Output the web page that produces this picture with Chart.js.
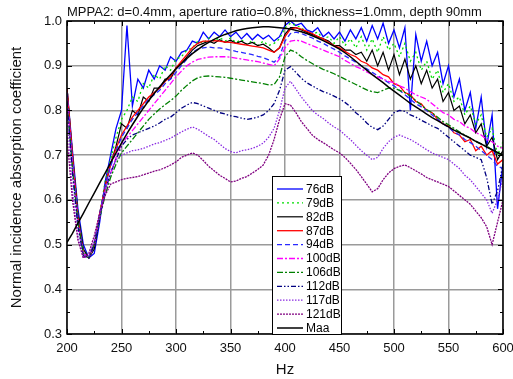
<!DOCTYPE html>
<html>
<head>
<meta charset="utf-8">
<script src="https://cdn.jsdelivr.net/npm/chart.js@4"></script>
<style>
  html, body { margin: 0; padding: 0; background: #fff; }
  #wrap { width: 513px; height: 379px; }
</style>
</head>
<body>
<div id="wrap"><canvas id="chart" width="513" height="379"></canvas></div>
<script>
// frequency axis (Hz), one value every 5 Hz
const hz = [200,205,210,215,220,225,230,235,240,245,
  250,255,260,265,270,275,280,285,290,295,
  300,305,310,315,320,325,330,335,340,345,
  350,355,360,365,370,375,380,385,390,395,
  400,405,410,415,420,425,430,435,440,445,
  450,455,460,465,470,475,480,485,490,495,
  500,505,510,515,520,525,530,535,540,545,
  550,555,560,565,570,575,580,585,590,595,
  600];

const db76 = [0.85,0.71,0.58,0.50,0.47,0.48,0.55,0.64,0.70,0.76,
  0.80,0.99,0.81,0.87,0.85,0.89,0.87,0.90,0.89,0.92,
  0.91,0.93,0.935,0.955,0.95,0.975,0.96,0.975,0.965,0.98,
  0.965,0.975,0.96,0.972,0.958,0.97,0.96,0.968,0.955,0.965,
  0.99,1.0,0.99,0.995,0.98,0.975,0.985,0.965,0.975,0.96,
  0.975,0.955,0.98,0.96,0.985,0.955,0.99,0.96,0.995,0.95,
  0.98,0.94,0.985,0.80,0.97,0.91,0.955,0.90,0.93,0.86,
  0.90,0.83,0.87,0.80,0.84,0.76,0.83,0.72,0.79,0.58,
  0.68];
const db79 = [0.85,0.70,0.57,0.49,0.47,0.50,0.57,0.64,0.69,0.74,
  0.78,0.80,0.83,0.82,0.86,0.85,0.88,0.87,0.90,0.89,
  0.915,0.92,0.935,0.94,0.955,0.95,0.962,0.955,0.963,0.955,
  0.962,0.952,0.958,0.948,0.956,0.945,0.955,0.945,0.95,0.96,
  0.985,0.995,0.99,0.985,0.975,0.97,0.975,0.96,0.965,0.95,
  0.965,0.945,0.96,0.94,0.965,0.935,0.96,0.93,0.965,0.935,
  0.95,0.92,0.95,0.91,0.93,0.89,0.91,0.87,0.89,0.84,
  0.86,0.82,0.83,0.79,0.81,0.77,0.79,0.74,0.76,0.70,
  0.73];
const db82 = [0.85,0.70,0.57,0.49,0.47,0.49,0.56,0.63,0.68,0.72,
  0.77,0.76,0.80,0.79,0.83,0.82,0.85,0.85,0.87,0.87,
  0.895,0.905,0.92,0.935,0.945,0.95,0.955,0.95,0.958,0.952,
  0.957,0.95,0.955,0.948,0.952,0.945,0.948,0.94,0.93,0.94,
  0.97,0.985,0.985,0.98,0.975,0.97,0.965,0.96,0.955,0.945,
  0.945,0.935,0.935,0.925,0.93,0.91,0.935,0.90,0.93,0.89,
  0.925,0.88,0.915,0.87,0.90,0.86,0.89,0.85,0.87,0.82,
  0.84,0.80,0.81,0.77,0.79,0.75,0.77,0.72,0.74,0.69,
  0.71];
const db87 = [0.85,0.70,0.56,0.48,0.47,0.50,0.57,0.63,0.68,0.715,
  0.745,0.765,0.785,0.80,0.815,0.83,0.84,0.85,0.865,0.875,
  0.895,0.91,0.925,0.94,0.95,0.955,0.955,0.956,0.955,0.953,
  0.952,0.95,0.948,0.946,0.944,0.942,0.94,0.935,0.93,0.94,
  0.965,0.982,0.985,0.982,0.977,0.972,0.965,0.96,0.952,0.945,
  0.94,0.932,0.925,0.92,0.91,0.905,0.895,0.89,0.88,0.875,
  0.86,0.855,0.84,0.835,0.82,0.815,0.80,0.795,0.78,0.77,
  0.765,0.75,0.745,0.73,0.735,0.71,0.72,0.70,0.71,0.68,
  0.69];
const db94 = [0.84,0.69,0.56,0.48,0.47,0.50,0.57,0.63,0.675,0.71,
  0.74,0.76,0.78,0.795,0.81,0.825,0.835,0.845,0.86,0.87,
  0.885,0.90,0.915,0.93,0.937,0.94,0.942,0.94,0.94,0.938,
  0.935,0.932,0.93,0.927,0.925,0.921,0.918,0.913,0.908,0.92,
  0.955,0.972,0.975,0.972,0.967,0.962,0.955,0.95,0.943,0.937,
  0.93,0.922,0.915,0.908,0.90,0.893,0.885,0.878,0.87,0.862,
  0.855,0.845,0.835,0.825,0.815,0.808,0.80,0.79,0.78,0.77,
  0.762,0.752,0.745,0.735,0.728,0.72,0.71,0.70,0.69,0.675,
  0.67];
const db100 = [0.83,0.68,0.55,0.48,0.47,0.50,0.56,0.62,0.66,0.695,
  0.725,0.74,0.755,0.77,0.785,0.80,0.815,0.83,0.845,0.86,
  0.875,0.888,0.90,0.908,0.914,0.917,0.919,0.92,0.92,0.92,
  0.919,0.917,0.915,0.913,0.911,0.909,0.906,0.903,0.90,0.915,
  0.94,0.955,0.957,0.955,0.95,0.945,0.94,0.935,0.93,0.925,
  0.92,0.912,0.905,0.898,0.893,0.886,0.88,0.875,0.87,0.865,
  0.862,0.855,0.85,0.842,0.835,0.83,0.825,0.815,0.805,0.795,
  0.79,0.78,0.775,0.765,0.76,0.75,0.745,0.735,0.73,0.72,
  0.715];
const db106 = [0.82,0.67,0.55,0.48,0.47,0.50,0.56,0.61,0.65,0.68,
  0.705,0.72,0.735,0.75,0.765,0.78,0.792,0.803,0.813,0.822,
  0.832,0.845,0.856,0.866,0.873,0.876,0.877,0.876,0.875,0.874,
  0.872,0.87,0.868,0.866,0.864,0.862,0.86,0.857,0.858,0.875,
  0.92,0.935,0.93,0.92,0.912,0.905,0.898,0.892,0.887,0.882,
  0.876,0.87,0.864,0.858,0.852,0.846,0.842,0.84,0.845,0.85,
  0.85,0.845,0.84,0.832,0.822,0.812,0.802,0.795,0.785,0.775,
  0.768,0.76,0.752,0.745,0.738,0.73,0.725,0.72,0.712,0.705,
  0.70];
const db112 = [0.82,0.66,0.54,0.475,0.47,0.50,0.56,0.62,0.66,0.69,
  0.72,0.735,0.745,0.75,0.755,0.76,0.765,0.772,0.78,0.785,
  0.795,0.805,0.812,0.818,0.815,0.81,0.805,0.80,0.795,0.792,
  0.788,0.786,0.783,0.78,0.782,0.785,0.79,0.80,0.815,0.845,
  0.89,0.898,0.885,0.872,0.862,0.855,0.848,0.842,0.838,0.832,
  0.826,0.818,0.808,0.795,0.785,0.772,0.762,0.757,0.765,0.78,
  0.795,0.80,0.798,0.79,0.785,0.778,0.772,0.765,0.76,0.75,
  0.74,0.73,0.72,0.71,0.70,0.695,0.69,0.65,0.59,0.62,
  0.68];
const db117 = [0.80,0.62,0.52,0.47,0.475,0.51,0.565,0.62,0.66,0.69,
  0.70,0.705,0.71,0.712,0.715,0.72,0.725,0.728,0.733,0.738,
  0.745,0.752,0.758,0.763,0.758,0.75,0.742,0.735,0.725,0.715,
  0.708,0.705,0.71,0.712,0.715,0.72,0.727,0.74,0.76,0.80,
  0.85,0.865,0.848,0.83,0.815,0.80,0.79,0.782,0.772,0.763,
  0.756,0.745,0.735,0.722,0.71,0.70,0.69,0.695,0.715,0.73,
  0.74,0.745,0.74,0.735,0.728,0.72,0.712,0.705,0.70,0.695,
  0.69,0.68,0.67,0.655,0.645,0.63,0.615,0.60,0.57,0.60,
  0.65];
const db121 = [0.74,0.60,0.51,0.47,0.48,0.52,0.57,0.61,0.635,0.64,
  0.645,0.648,0.65,0.652,0.656,0.66,0.664,0.667,0.672,0.678,
  0.685,0.695,0.70,0.705,0.70,0.688,0.675,0.665,0.655,0.648,
  0.64,0.642,0.648,0.652,0.66,0.668,0.678,0.70,0.735,0.78,
  0.815,0.812,0.795,0.775,0.76,0.745,0.735,0.728,0.72,0.712,
  0.705,0.695,0.682,0.668,0.652,0.635,0.618,0.625,0.645,0.66,
  0.67,0.675,0.678,0.672,0.665,0.658,0.65,0.645,0.64,0.635,
  0.63,0.62,0.61,0.60,0.59,0.575,0.56,0.54,0.50,0.55,
  0.60];
const maa = [0.505,0.525,0.548,0.57,0.593,0.615,0.638,0.66,0.683,0.705,
  0.727,0.748,0.768,0.787,0.805,0.822,0.838,0.853,0.867,0.88,
  0.893,0.905,0.916,0.927,0.936,0.945,0.952,0.959,0.965,0.97,
  0.974,0.978,0.981,0.983,0.985,0.986,0.987,0.987,0.986,0.985,
  0.984,0.982,0.979,0.976,0.972,0.967,0.962,0.956,0.95,0.944,
  0.937,0.929,0.92,0.91,0.90,0.89,0.88,0.871,0.862,0.852,
  0.843,0.834,0.825,0.816,0.808,0.80,0.792,0.784,0.777,0.77,
  0.763,0.756,0.75,0.744,0.738,0.731,0.725,0.718,0.712,0.706,
  0.70];

const seriesNames = ["76dB","79dB","82dB","87dB","94dB","100dB","106dB","112dB","117dB","121dB","Maa"];
const seriesValues = [db76, db79, db82, db87, db94, db100, db106, db112, db117, db121, maa];

const xTicks = [200,250,300,350,400,450,500,550,600];
const xMinor = [225,275,325,375,425,475,525,575];
const yTicks = [0.3,0.4,0.5,0.6,0.7,0.8,0.9,1.0];
const yMinor = [0.35,0.45,0.55,0.65,0.75,0.85,0.95];

const titleText = "MPPA2: d=0.4mm, aperture ratio=0.8%, thickness=1.0mm, depth 90mm";

const styles = [
  { color: "#0000ff", dash: [], width: 1.3 },
  { color: "#00dd00", dash: [2, 3], width: 1.3 },
  { color: "#000000", dash: [], width: 1.2 },
  { color: "#ff0000", dash: [], width: 1.3 },
  { color: "#2a2aff", dash: [5, 3], width: 1.3 },
  { color: "#ff00ff", dash: [6, 2, 2, 2], width: 1.3 },
  { color: "#008000", dash: [6, 2, 2, 2], width: 1.3 },
  { color: "#000080", dash: [5, 2, 1.5, 2, 1.5, 2], width: 1.3 },
  { color: "#8a2be2", dash: [1.5, 1.5], width: 1.3 },
  { color: "#800080", dash: [2, 1], width: 1.3 },
  { color: "#000000", dash: [], width: 1.5 },
];

const datasets = seriesNames.map(function (name, i) {
  return {
    label: name,
    data: hz.map(function (f, k) { return { x: f, y: seriesValues[i][k] }; }),
    borderColor: styles[i].color,
    borderDash: styles[i].dash,
    borderWidth: styles[i].width,
    pointRadius: 0,
    tension: 0,
    fill: false,
    order: -i,
  };
});

// frame, inward ticks, title and the boxed legend
const decorations = {
  id: "decorations",
  afterDatasetsDraw(chart) {
    const { ctx, chartArea: a, scales } = chart;
    const x = scales.x, y = scales.y;
    ctx.save();
    ctx.strokeStyle = "#000";
    ctx.lineWidth = 1;
    ctx.beginPath();
    xTicks.concat(xMinor).forEach(function (v) {
      const px = Math.round(x.getPixelForValue(v)) + 0.5;
      const len = xTicks.includes(v) ? 5 : 3;
      ctx.moveTo(px, a.bottom); ctx.lineTo(px, a.bottom - len);
      ctx.moveTo(px, a.top); ctx.lineTo(px, a.top + len);
    });
    yTicks.concat(yMinor).forEach(function (v) {
      const py = Math.round(y.getPixelForValue(v)) + 0.5;
      const len = yTicks.includes(v) ? 5 : 3;
      ctx.moveTo(a.left, py); ctx.lineTo(a.left + len, py);
      ctx.moveTo(a.right, py); ctx.lineTo(a.right - len, py);
    });
    ctx.stroke();
    ctx.lineWidth = 1.5;
    ctx.strokeRect(a.left, a.top, a.right - a.left, a.bottom - a.top);

    // legend box
    const lx = a.left + 205, ly = a.top + 155, lw = 69, lh = a.bottom - ly;
    ctx.fillStyle = "#fff";
    ctx.fillRect(lx, ly, lw, lh);
    ctx.lineWidth = 1;
    ctx.strokeStyle = "#000";
    ctx.strokeRect(lx + 0.5, ly + 0.5, lw, lh);
    ctx.font = "12px Arial, 'Liberation Sans'";
    ctx.textBaseline = "middle";
    ctx.textAlign = "left";
    chart.data.datasets.forEach(function (ds, i) {
      const cy = ly + 13 + i * 13.9;
      ctx.beginPath();
      ctx.setLineDash(ds.borderDash);
      ctx.strokeStyle = ds.borderColor;
      ctx.lineWidth = ds.borderWidth;
      ctx.moveTo(lx + 5, cy);
      ctx.lineTo(lx + 31, cy);
      ctx.stroke();
      ctx.setLineDash([]);
      ctx.fillStyle = "#000";
      ctx.fillText(ds.label, lx + 34, cy + 0.5);
    });

    // title
    ctx.fillStyle = "#111";
    ctx.font = "13px Arial, 'Liberation Sans'";
    ctx.textAlign = "left";
    ctx.fillText(titleText, a.left, 12);
    ctx.restore();
  },
};

const chart = new Chart(document.getElementById("chart"), {
  type: "line",
  data: { datasets: datasets },
  options: {
    responsive: false,
    animation: false,
    layout: { padding: { left: 0, right: 10, top: 21, bottom: 0 } },
    plugins: { legend: { display: false }, tooltip: { enabled: false }, title: { display: false } },
    scales: {
      x: {
        type: "linear",
        min: 200,
        max: 600,
        afterBuildTicks: function (s) { s.ticks = xTicks.map(function (v) { return { value: v }; }); },
        afterFit: function (s) { s.height = 45; s.paddingRight = 0; },
        grid: { color: "#9a9a9a", lineWidth: 1.5, drawTicks: false },
        border: { display: false },
        ticks: { padding: 7, color: "#111", font: { family: "Arial, 'Liberation Sans'", size: 13 }, maxRotation: 0 },
        title: { display: true, text: "Hz", color: "#111", font: { family: "Arial, 'Liberation Sans'", size: 15 }, padding: { top: 0, bottom: 0 } },
      },
      y: {
        type: "linear",
        min: 0.3,
        max: 1.0,
        afterBuildTicks: function (s) { s.ticks = yTicks.map(function (v) { return { value: v }; }); },
        afterFit: function (s) { s.width = 67; },
        grid: { color: "#9a9a9a", lineWidth: 1.5, drawTicks: false },
        border: { display: false },
        ticks: { padding: 5, color: "#111", font: { family: "Arial, 'Liberation Sans'", size: 13 },
          callback: function (v) { return Number(v).toFixed(1); } },
        title: { display: true, text: "Normal incidence absorption coefficient", color: "#111",
          font: { family: "Arial, 'Liberation Sans'", size: 15 }, padding: { top: 8, bottom: 0 } },
      },
    },
  },
  plugins: [decorations],
});
</script>
</body>
</html>
